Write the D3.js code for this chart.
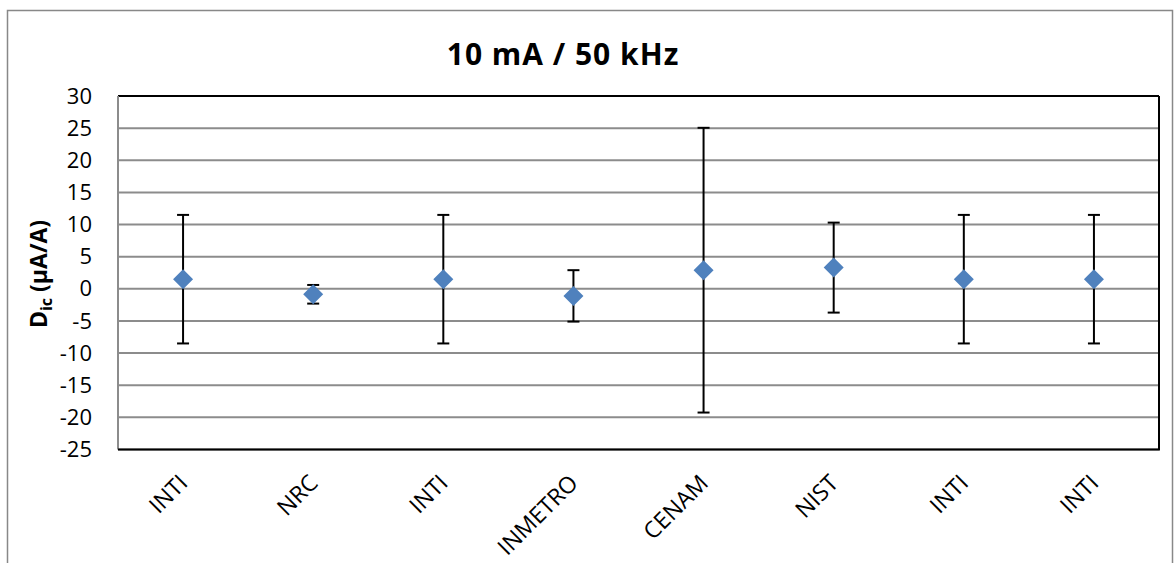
<!DOCTYPE html>
<html><head><meta charset="utf-8">
<script src="https://cdn.jsdelivr.net/npm/d3@7"></script>
<style>body{margin:0;background:#fff}svg{display:block}text{font-family:"Open Sans","Liberation Sans",sans-serif}</style>
</head><body>
<script>
const categories = ["INTI","NRC","INTI","INMETRO","CENAM","NIST","INTI","INTI"];
const values = [1.5, -0.85, 1.5, -1.1, 2.9, 3.3, 1.5, 1.5];
const errors = [10, 1.45, 10, 4, 22.15, 7, 10, 10];
const yTicks = [30,25,20,15,10,5,0,-5,-10,-15,-20,-25];
const title = "10 mA / 50 kHz";

const W=1174,H=563;
const svg=d3.select("body").append("svg").attr("width",W).attr("height",H);
svg.append("rect").attr("x",7.5).attr("y",10.5).attr("width",1165).attr("height",600).attr("fill","#fff").attr("stroke","#888").attr("stroke-width",1.5);

const L=118,R=1159,T=96,B=449.5;
const x=d3.scaleBand().domain(d3.range(categories.length)).range([L,R]);
const y=d3.scaleLinear().domain([-25,30]).range([B,T]);

// gridlines
svg.append("g").selectAll("line").data(yTicks).join("line")
 .attr("x1",L).attr("x2",R).attr("y1",d=>y(d)).attr("y2",d=>y(d))
 .attr("stroke","#8c8c8c").attr("stroke-width",2);
// plot borders
svg.append("line").attr("x1",L).attr("x2",R).attr("y1",T).attr("y2",T).attr("stroke","#000").attr("stroke-width",2);
svg.append("line").attr("x1",R).attr("x2",R).attr("y1",T).attr("y2",B).attr("stroke","#000").attr("stroke-width",2);
svg.append("line").attr("x1",L).attr("x2",L).attr("y1",T).attr("y2",B).attr("stroke","#8c8c8c").attr("stroke-width",2);
svg.append("line").attr("x1",L).attr("x2",R+1).attr("y1",B).attr("y2",B).attr("stroke","#000").attr("stroke-width",2);

// y axis labels
const yAxis=d3.axisLeft(y).tickValues(yTicks).tickSize(0).tickPadding(26).tickFormat(d=>String(d));
const gy=svg.append("g").attr("transform",`translate(${L},0)`).call(yAxis);
gy.select(".domain").remove();
gy.selectAll("text").attr("font-size",22).attr("fill","#000").style("font-family","'Open Sans',sans-serif");

// x labels
const cx=i=>x(i)+x.bandwidth()/2;
svg.append("g").selectAll("text").data(categories).join("text")
 .attr("transform",(d,i)=>`translate(${cx(i)+6},${B+35}) rotate(-45)`)
 .attr("text-anchor","end").attr("font-size",23).attr("fill","#000").text(d=>d);

// error bars
const eb=svg.append("g").attr("stroke","#000").attr("stroke-width",2);
values.forEach((v,i)=>{
  eb.append("line").attr("x1",cx(i)).attr("x2",cx(i)).attr("y1",y(v+errors[i])).attr("y2",y(v-errors[i]));
  eb.append("line").attr("x1",cx(i)-6).attr("x2",cx(i)+6).attr("y1",y(v+errors[i])).attr("y2",y(v+errors[i]));
  eb.append("line").attr("x1",cx(i)-6).attr("x2",cx(i)+6).attr("y1",y(v-errors[i])).attr("y2",y(v-errors[i]));
});
// markers
svg.append("g").selectAll("path").data(values).join("path")
 .attr("transform",(d,i)=>`translate(${cx(i)},${y(d)})`)
 .attr("d","M0,-10L10,0L0,10L-10,0Z").attr("fill","#4f81bd");

// title
svg.append("text").attr("x",563).attr("y",65).attr("text-anchor","middle").attr("font-size",30).attr("letter-spacing",1).attr("font-weight","bold").text(title);

// y title
const yt=svg.append("text").attr("transform",`translate(47,${274}) rotate(-90)`).attr("text-anchor","middle").attr("font-size",23).attr("font-weight","bold");
yt.append("tspan").text("D");
yt.append("tspan").attr("font-size",16).attr("dy",5).text("ic");
yt.append("tspan").attr("dy",-5).text(" (μA/A)");
</script>
</body></html>
